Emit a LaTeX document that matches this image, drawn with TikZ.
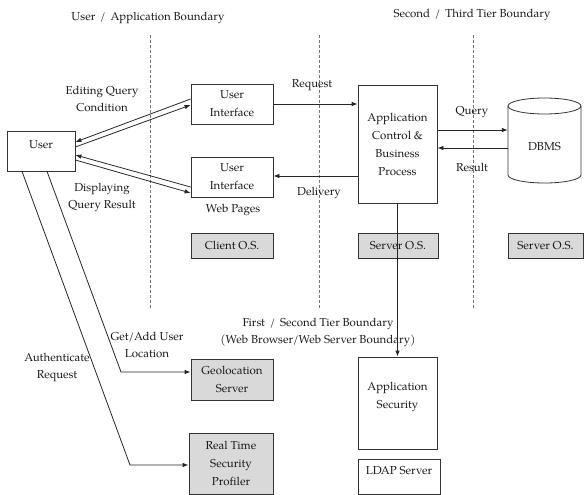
\documentclass[tikz,border=0pt]{standalone}
\usepackage{fontspec}
\setmainfont{TeX Gyre Pagella}
\usetikzlibrary{arrows.meta}
\begin{document}
\begin{tikzpicture}[x=1pt,y=-1pt,
  every node/.style={font=\fontsize{11.5}{17}\selectfont, align=center, inner sep=0pt, text=black!90},
  box/.style={draw=black!80, line width=0.8pt, rectangle},
  osbox/.style={box, fill=black!15},
  conn/.style={draw=black!85, line width=0.8pt},
  arr/.style={conn, -{Latex[length=6pt,width=4.5pt]}},
  bound/.style={draw=black!55, line width=0.8pt, dash pattern=on 3pt off 2pt},
  boxtext/.style={font=\fontsize{11.5}{18}\selectfont}]
\useasboundingbox (0,0) rectangle (584,495);

% boundaries
\draw[bound] (150,35) -- (150,310);
\draw[bound] (319,35) -- (319,310);
\draw[bound] (473,35) -- (473,310);
\node (tb1) at (148,18) {User \,/\, Application Boundary};
\node (tb2) at (472,15) {Second \,/\, Third Tier Boundary};
\node (tb3) at (318,332) {First \,/\, Second Tier Boundary\\(Web Browser/Web Server Boundary)};

% boxes
\node[box, minimum width=68pt, minimum height=40pt] (user) at (41,151) {};
\node (usert) at (41,145) {User};
\node[box, boxtext, minimum width=82pt, minimum height=40pt] (ui1) at (232,104) {User\\Interface};
\node[box, boxtext, minimum width=82pt, minimum height=40pt] (ui2) at (232,177) {User\\Interface};
\node (web) at (233,210) {Web Pages};
\node[osbox, minimum width=82pt, minimum height=25pt] (client) at (232,245.5) {Client O.S.};
\node[box, boxtext, minimum width=79pt, minimum height=118pt] (app) at (397.5,144) {Application\\Control \&\\Business\\Process};
\node[osbox, minimum width=80pt, minimum height=25pt] (sos1) at (398,245.5) {Server O.S.};
\node[osbox, minimum width=75pt, minimum height=25pt] (sos2) at (545.5,245.5) {Server O.S.};

% DBMS cylinder
\node[minimum width=73pt, minimum height=85pt] (dbms) at (544.5,140.5) {};
\draw[box] (508,106) -- (508,175) arc[start angle=180, end angle=360, x radius=36.5, y radius=-8] -- (581,106);
\draw[box] (544.5,106) ellipse[x radius=36.5, y radius=8];
\node (dbmst) at (544.5,147) {DBMS};

\node[box, minimum width=79pt, minimum height=92pt] (appsec) at (397.5,403) {};
\node[boxtext] (appsect) at (397.5,397) {Application\\Security};
\node[box, minimum width=82pt, minimum height=35pt] (ldap) at (399,476.5) {};
\node (ldapt) at (399,471) {LDAP Server};

\node[osbox, boxtext, minimum width=82pt, minimum height=41pt] (geo) at (232,379.5) {Geolocation\\Server};
\node[osbox, boxtext, minimum width=84pt, minimum height=61pt] (rtsp) at (231,463.5) {Real Time\\Security\\Profiler};

% connectors
\draw[arr] (ui1.west |- 0,99) -- (user.east |- 0,142);
\draw[arr] (user.east |- 0,147) -- (ui1.west |- 0,105);
\draw[arr] (ui2.west |- 0,187) -- (user.east |- 0,155);
\draw[arr] (user.east |- 0,160) -- (ui2.west |- 0,193);
\node (lbl1) at (102,99) {Editing Query\\Condition};
\node (lbl2) at (102,197.5) {Displaying\\Query Result};

\draw[arr] (ui1.east |- 0,104) -- (app.west |- 0,104);
\node (lreq) at (312,85) {Request};
\draw[arr] (app.west |- 0,176) -- (ui2.east |- 0,176);
\node (ldel) at (319,193) {Delivery};
\draw[arr] (app.east |- 0,130) -- (dbms.west |- 0,130);
\node (lq) at (472,112) {Query};
\draw[arr] (dbms.west |- 0,148) -- (app.east |- 0,148);
\node (lres) at (472,167) {Result};

\draw[arr] (app.south) -- (appsec.north);

\coordinate (b1) at (121,372);
\coordinate (b2) at (130,465);
\draw[arr] (user.south -| 47,0) -- (b1) -- (geo.west |- b1);
\draw[arr] (user.south -| 22,0) -- (b2) -- (rtsp.west |- b2);
\node (lgeo) at (147,344.5) {Get/Add User\\Location};
\node (lauth) at (57,367.5) {Authenticate\\Request};
\end{tikzpicture}
\end{document}
